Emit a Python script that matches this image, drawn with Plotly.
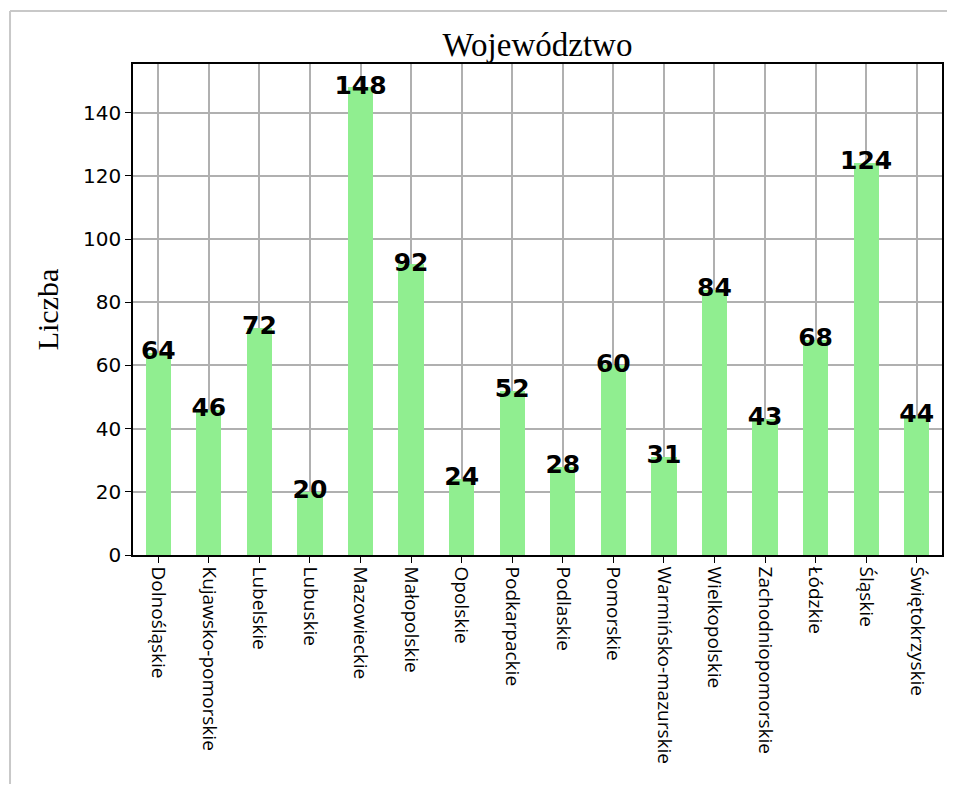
import plotly.graph_objects as go

wojewodztwa = ["Dolnośląskie", "Kujawsko-pomorskie", "Lubelskie", "Lubuskie",
               "Mazowieckie", "Małopolskie", "Opolskie", "Podkarpackie",
               "Podlaskie", "Pomorskie", "Warmińsko-mazurskie", "Wielkopolskie",
               "Zachodniopomorskie", "Łódzkie", "Śląskie", "Świętokrzyskie"]
liczba = [64, 46, 72, 20, 148, 92, 24, 52, 28, 60, 31, 84, 43, 68, 124, 44]
y_ticks = [0, 20, 40, 60, 80, 100, 120, 140]

fig = go.Figure()

# bars
fig.add_trace(go.Bar(
    x=wojewodztwa, y=liczba, width=0.5,
    marker=dict(color="#90ee90", line=dict(width=0)),
    hoverinfo="x+y"
))

# value labels centered on bar tops
fig.add_trace(go.Scatter(
    x=wojewodztwa, y=liczba, mode="text",
    text=[str(v) for v in liczba], textposition="middle center",
    textfont=dict(family="DejaVu Sans", size=25, color="black", weight="bold"),
    hoverinfo="skip"
))

# light frame around the figure (screenshot border)
fig.add_shape(type="line", xref="paper", yref="paper",
              x0=-0.152, x1=1.2, y0=1.108, y1=1.108,
              line=dict(color="#c8c8c8", width=2))
fig.add_shape(type="line", xref="paper", yref="paper",
              x0=-0.152, x1=-0.152, y0=1.108, y1=-0.6,
              line=dict(color="#c8c8c8", width=2))

# page body has an 8px margin, so the figure is a bit smaller than the window
fig.update_layout(
    width=939, height=776,
    margin=dict(l=125, r=3, t=56, b=229),
    paper_bgcolor="white", plot_bgcolor="white",
    showlegend=False, bargap=0,
    title=dict(text="Województwo", x=0.5, xref="paper", xanchor="center",
               y=0.953, yanchor="middle",
               font=dict(family="Liberation Serif", size=33, color="black")),
    font=dict(family="DejaVu Sans", color="black"),
)

fig.update_xaxes(
    type="category", range=[-0.5, 15.5],
    tickangle=90, tickfont=dict(family="Open Sans", size=19, color="black"),
    ticks="outside", ticklen=6, tickcolor="black",
    showgrid=True, gridcolor="#b0b0b0", gridwidth=1.5,
    showline=True, linecolor="black", linewidth=1.5, mirror=True,
)
fig.update_yaxes(
    range=[0, 155.4], tickvals=y_ticks,
    tickfont=dict(family="DejaVu Sans", size=20, color="black"),
    ticks="outside", ticklen=6, tickcolor="black",
    showgrid=True, gridcolor="#b0b0b0", gridwidth=1.5, zeroline=False,
    showline=True, linecolor="black", linewidth=1.5, mirror=True,
    title=dict(text="Liczba", standoff=16,
               font=dict(family="Liberation Serif", size=30, color="black")),
)

fig.write_html("out.html")
